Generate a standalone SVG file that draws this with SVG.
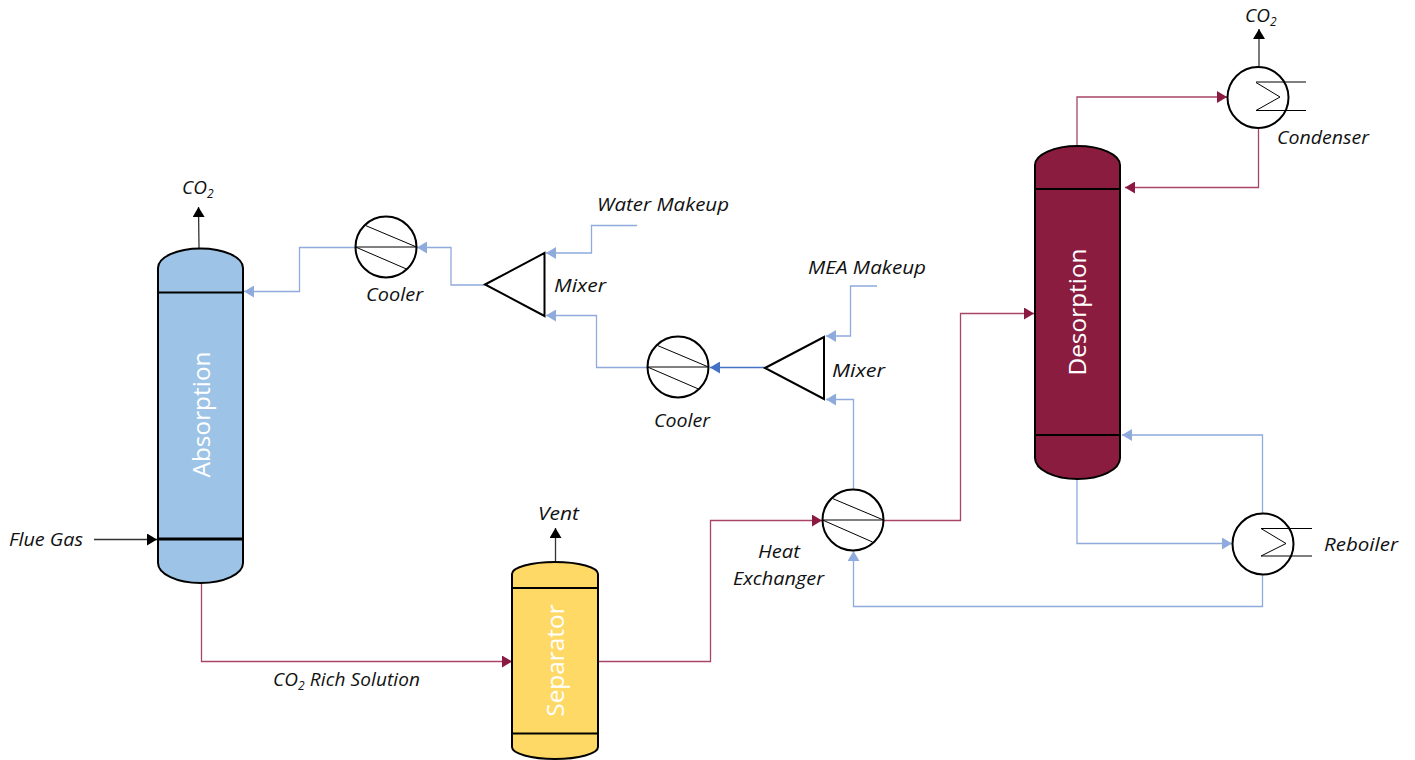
<svg xmlns="http://www.w3.org/2000/svg" width="1415" height="760" viewBox="0 0 1415 760">
<style>
.eq{stroke:#000;stroke-width:2}
.in{stroke:#000;stroke-width:1;fill:none}
.c{fill:#fff;stroke:#000;stroke-width:2}
.tri{fill:#fff;stroke:#000;stroke-width:2;stroke-linejoin:miter}
.sep{stroke:#000;stroke-width:2;fill:none}
.con{fill:none;stroke-width:1.3}
.b{stroke:#8FAADC;marker-end:url(#ab)}
.w{stroke:#A8446A;marker-end:url(#aw)}
.k{stroke:#333;marker-end:url(#ak)}
.d{stroke:#4472C4;marker-end:url(#ad)}
text{font-family:"Open Sans","Noto Sans",sans-serif;font-style:italic;font-size:19px;fill:#111}
.v{font-style:normal;font-size:24.400px;fill:#fff;text-anchor:middle}
.s{font-size:12px}
</style>
<defs>
<marker id="ab" markerUnits="userSpaceOnUse" markerWidth="11" markerHeight="12" refX="10" refY="6" orient="auto"><path d="M0 0L10 6L0 12Z" fill="#8FAADC"/></marker>
<marker id="aw" markerUnits="userSpaceOnUse" markerWidth="11" markerHeight="12" refX="10" refY="6" orient="auto"><path d="M0 0L10 6L0 12Z" fill="#8B1A42"/></marker>
<marker id="ak" markerUnits="userSpaceOnUse" markerWidth="11" markerHeight="12" refX="10" refY="6" orient="auto"><path d="M0 0L10 6L0 12Z" fill="#000"/></marker>
<marker id="ad" markerUnits="userSpaceOnUse" markerWidth="11" markerHeight="12" refX="10" refY="6" orient="auto"><path d="M0 0L10 6L0 12Z" fill="#4472C4"/></marker>
</defs>

<g id="connectors">
<path class="con k" d="M199 248L198.500 207"/>
<path class="con b" d="M355 247.500H299.500V291.500H244"/>
<path class="con b" d="M485 285H451V247.500H417"/>
<path class="con b" d="M637 225.500H591.500V253H546"/>
<path class="con b" d="M647 367.500H596.500V315.500H546"/>
<path class="con d" d="M765 367.500H710"/>
<path class="con b" d="M877 286H850.500V336H826"/>
<path class="con b" d="M853.500 489V399.500H826"/>
<path class="con w" d="M598 661.500H710.500V520.500H822"/>
<path class="con w" d="M884 520.500H960.500V313.500H1034"/>
<path class="con w" d="M1077 146V97H1227"/>
<path class="con w" d="M1258.500 128V187.500H1125"/>
<path class="con k" d="M1259 66V29"/>
<path class="con b" d="M1262.500 513V435H1122"/>
<path class="con b" d="M1077 479V543.500H1232"/>
<path class="con b" d="M1262.500 575V606.500H853.500V551"/>
<path class="con w" d="M201.500 584V661.500H512"/>
<path class="con k" d="M94 539.500H157"/>
<path class="con k" d="M555.500 562V528"/>
</g>

<g id="absorption">
<path class="eq" fill="#9DC3E6" d="M158 268A42.500 19.500 0 0 1 243 268V563A42.500 20 0 0 1 158 563Z"/>
<path class="sep" d="M158 292.500H243"/>
<path class="sep" style="stroke-width:3" d="M158 539H243"/>
<text class="v" transform="translate(210 414.500) rotate(-90)">Absorption</text>
</g>
<g id="separator">
<path class="eq" fill="#FFD966" d="M512 574A43 12 0 0 1 598 574V747A43 12 0 0 1 512 747Z"/>
<path class="sep" d="M512 588H598M512 733.500H598"/>
<text class="v" transform="translate(564 660.500) rotate(-90)">Separator</text>
</g>
<g id="desorption">
<path class="eq" fill="#8A1C3F" d="M1035 165A42.500 19 0 0 1 1120 165V458A42.500 21 0 0 1 1035 458Z"/>
<path class="sep" d="M1035 189H1120M1035 435H1120"/>
<text class="v" transform="translate(1086 312) rotate(-90)">Desorption</text>
</g>

<g id="cooler1">
<circle class="c" cx="386" cy="247" r="30.500"/>
<path class="in" d="M355.500 247H416.500M365.500 225.500L416.500 247M355.500 247L406.500 269"/>
</g>
<g id="cooler2">
<circle class="c" cx="678" cy="367" r="30.500"/>
<path class="in" d="M647.500 367H708.500M657.500 345.500L708.500 367M647.500 367L698.500 389"/>
</g>
<g id="heat-exchanger">
<circle class="c" cx="853" cy="520" r="30.500"/>
<path class="in" d="M822.500 520H883.500M832.500 498.500L883.500 520M822.500 520L872.500 542"/>
</g>
<g id="condenser">
<circle class="c" cx="1258" cy="97.500" r="30.500"/>
<path class="in" d="M1256 82H1306M1256 82.500L1280 97L1256 110.500H1306"/>
</g>
<g id="reboiler">
<circle class="c" cx="1263" cy="544" r="30.500"/>
<path class="in" d="M1261 528.500H1312M1261 528.500L1286 543.500L1261 556H1312"/>
</g>
<g id="mixer1"><path class="tri" d="M485 284.500L544.500 253V316Z"/></g>
<g id="mixer2"><path class="tri" d="M765 368L824 337V399Z"/></g>

<g id="labels">
<text x="182" y="194">CO<tspan class="s" dy="4">2</tspan></text>
<text x="1245" y="22">CO<tspan class="s" dy="4">2</tspan></text>
<text x="366" y="300.500" textLength="57" lengthAdjust="spacingAndGlyphs">Cooler</text>
<text x="654" y="426.500" textLength="56" lengthAdjust="spacingAndGlyphs">Cooler</text>
<text x="597" y="211" textLength="132" lengthAdjust="spacingAndGlyphs">Water Makeup</text>
<text x="808" y="273.500" textLength="118" lengthAdjust="spacingAndGlyphs">MEA Makeup</text>
<text x="554" y="292" textLength="52" lengthAdjust="spacingAndGlyphs">Mixer</text>
<text x="832" y="377" textLength="53" lengthAdjust="spacingAndGlyphs">Mixer</text>
<text x="1277" y="144" textLength="92" lengthAdjust="spacingAndGlyphs">Condenser</text>
<text x="1324" y="551" textLength="74" lengthAdjust="spacingAndGlyphs">Reboiler</text>
<text x="758" y="558" textLength="42" lengthAdjust="spacingAndGlyphs">Heat</text>
<text x="733" y="585" textLength="91" lengthAdjust="spacingAndGlyphs">Exchanger</text>
<text x="538" y="520" textLength="41" lengthAdjust="spacingAndGlyphs">Vent</text>
<text x="9" y="546" textLength="74" lengthAdjust="spacingAndGlyphs">Flue Gas</text>
<text x="273" y="686" textLength="147">CO<tspan class="s" dy="4">2</tspan><tspan dy="-4"> Rich Solution</tspan></text>
</g>
</svg>
